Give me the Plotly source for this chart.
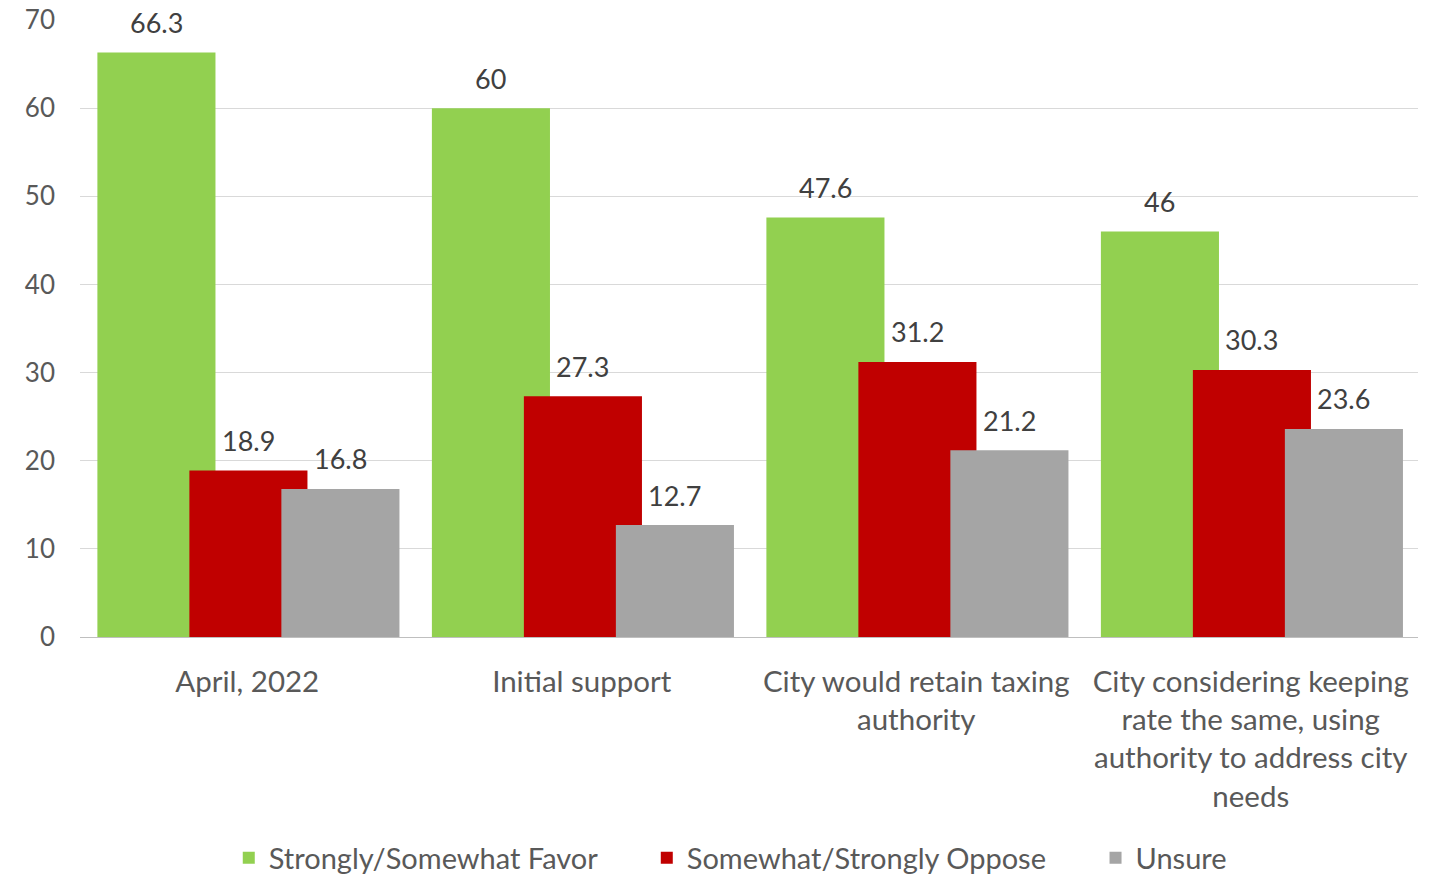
import plotly.graph_objects as go

categories = [
    "April, 2022",
    "Initial support",
    "City would retain taxing<br>authority",
    "City considering keeping<br>rate the same, using<br>authority to address city<br>needs",
]
favor = [66.3, 60, 47.6, 46]
oppose = [18.9, 27.3, 31.2, 30.3]
unsure = [16.8, 12.7, 21.2, 23.6]

series_names = ["Strongly/Somewhat Favor", "Somewhat/Strongly Oppose", "Unsure"]
series_colors = ["#92D050", "#C00000", "#A5A5A5"]
series_values = [favor, oppose, unsure]

FONT = "Lato, 'Open Sans', sans-serif"
BAR_W = 0.353
STEP = 0.275
START = -0.448
PAD = "&nbsp;" * 6

fig = go.Figure()
for i, (name, color, vals) in enumerate(zip(series_names, series_colors, series_values)):
    fig.add_trace(go.Bar(
        x=categories,
        y=vals,
        name=name + (PAD if i < len(series_names) - 1 else ""),
        marker=dict(color=color, line=dict(width=0)),
        width=BAR_W,
        offset=START + i * STEP,
        hoverinfo="skip",
    ))
    # value labels centred above each bar
    for j, v in enumerate(vals):
        fig.add_annotation(
            x=j + START + i * STEP + BAR_W / 2,
            y=v,
            xref="x",
            yref="y",
            text=f"{v:g}",
            showarrow=False,
            yanchor="middle",
            xanchor="center",
            yshift=30,
            font=dict(family=FONT, size=27, color="#404040"),
        )

fig.update_layout(
    barmode="overlay",
    width=1440,
    height=876,
    margin=dict(l=80, r=22, t=20, b=239),
    paper_bgcolor="white",
    plot_bgcolor="white",
    font=dict(family=FONT, color="#595959"),
    xaxis=dict(
        type="category",
        tickfont=dict(family=FONT, size=29.5, color="#595959"),
        showgrid=False,
        showline=False,
        ticks="",
        ticklabelstandoff=24,
        automargin=False,
    ),
    yaxis=dict(
        range=[0, 70],
        dtick=10,
        tickfont=dict(family=FONT, size=26, color="#595959"),
        showgrid=True,
        gridcolor="#D9D9D9",
        gridwidth=1,
        zeroline=True,
        zerolinecolor="#BFBFBF",
        zerolinewidth=1,
        ticks="",
        ticklabelstandoff=24,
        automargin=False,
    ),
    legend=dict(
        orientation="h",
        x=0.486,
        xanchor="center",
        yref="container",
        y=1 - 858 / 876,
        yanchor="middle",
        font=dict(family=FONT, size=29, color="#595959"),
        itemwidth=30,
        traceorder="normal",
    ),
    showlegend=True,
)

fig.write_html("out.html")
